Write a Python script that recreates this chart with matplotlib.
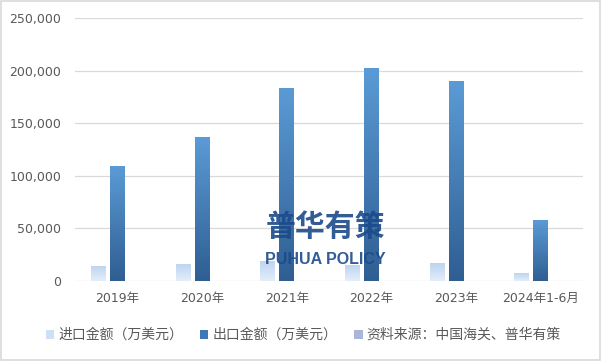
import matplotlib.pyplot as plt
import numpy as np
from matplotlib.colors import LinearSegmentedColormap
from matplotlib.patches import Rectangle, Patch
from matplotlib.ticker import FuncFormatter

plt.rcParams['font.family'] = ['DejaVu Sans', 'Noto Sans CJK SC']

categories = ["2019年", "2020年", "2021年", "2022年", "2023年", "2024年1-6月"]
imports = [14300, 16200, 19300, 15500, 17100, 7600]
exports = [109300, 136900, 183500, 202500, 190100, 58000]
source = [0, 0, 0, 0, 0, 0]
labels = ["进口金额（万美元）", "出口金额（万美元）", "资料来源：中国海关、普华有策"]

fig = plt.figure(figsize=(6.01, 3.61), dpi=100)
ax = fig.add_axes([0.125, 0.222, 0.845, 0.728])

x = np.arange(len(categories))
w = 0.177
off = 0.224

grad = np.linspace(0, 1, 256).reshape(-1, 1)
cmap_imp = LinearSegmentedColormap.from_list("imp", ["#e4eefa", "#bcd3f0"])
cmap_exp = LinearSegmentedColormap.from_list("exp", ["#2f5e92", "#5b9bd5"])


def grad_bars(xs, vals, cmap):
    for xi, v in zip(xs, vals):
        if v <= 0:
            continue
        r = Rectangle((xi - w / 2, 0), w, v, facecolor="none", edgecolor="none")
        ax.add_patch(r)
        im = ax.imshow(grad, cmap=cmap, origin="lower", aspect="auto",
                       extent=[xi - w / 2, xi + w / 2, 0, v], zorder=2)
        im.set_clip_path(r)


grad_bars(x - off, imports, cmap_imp)
grad_bars(x, exports, cmap_exp)
ax.bar(x + off, source, w, color="#a9b6da")

ax.set_xlim(-0.5, len(categories) - 0.5)
ax.set_ylim(0, 250000)
ax.set_yticks(np.arange(0, 250001, 50000))
ax.yaxis.set_major_formatter(FuncFormatter(lambda v, p: f"{int(v):,}"))
ax.set_xticks(x)
ax.set_xticklabels(categories)
ax.tick_params(length=0, labelsize=9, colors="#595959")
ax.tick_params(axis="x", pad=8)
ax.tick_params(axis="y", pad=10)
ax.grid(axis="y", color="#d9d9d9", linewidth=0.9)
ax.set_axisbelow(True)
for s in ax.spines.values():
    s.set_visible(False)

# watermark
fig.text(0.541, 0.372, "普华有策", fontsize=21.5, fontweight="heavy", color="#1b4a8a",
         family="Noto Sans CJK SC", ha="center", va="center", alpha=0.9, zorder=5)
fig.text(0.541, 0.28, "PUHUA POLICY", fontsize=11.5, fontweight="bold", color="#1b4a8a",
         family="Liberation Sans", ha="center", va="center", alpha=0.9, zorder=5)

handles = [Patch(facecolor="#cfe0f5"), Patch(facecolor="#3f78b4"), Patch(facecolor="#a9b6da")]
fig.legend(handles, labels, loc="center", bbox_to_anchor=(0.505, 0.072), ncol=3,
           frameon=False, fontsize=10, labelcolor="#595959", handlelength=0.6,
           handleheight=0.6, handletextpad=0.3, columnspacing=1.2)

fig.patches.append(Rectangle((0.002, 0.003), 0.996, 0.994, transform=fig.transFigure,
                             fill=False, edgecolor="#d9d9d9", linewidth=1.2))

fig.savefig("out.png", dpi=100)
